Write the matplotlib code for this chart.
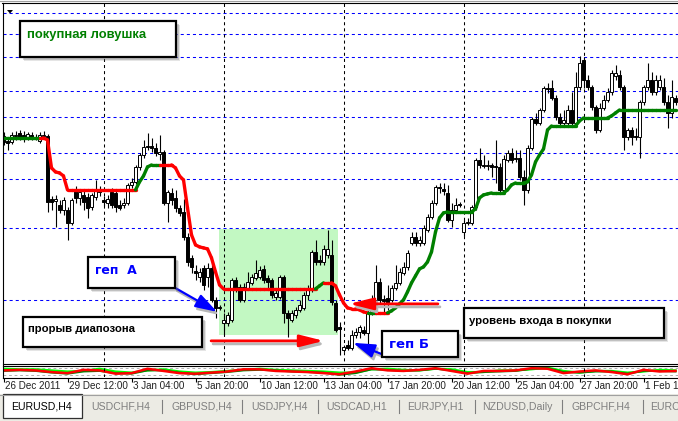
import numpy as np
import matplotlib
matplotlib.use("Agg")
import matplotlib.pyplot as plt
from matplotlib.patches import Rectangle, Polygon
from matplotlib.collections import LineCollection
import matplotlib.transforms as mtransforms

plt.rcParams['lines.scale_dashes'] = False

# ---------------- DATA (EURUSD H4, prices x 10^4) ----------------
open_pips = [
    13028, 13018, 13016, 13028, 13034, 13030, 13026, 13030, 13026, 13018,
    13028, 13028, 12902, 12898, 12890, 12880, 12880, 12854, 12918, 12904,
    12910, 12906, 12886, 12906, 12920, 12900, 12894, 12916, 12914, 12890,
    12890, 12894, 12930, 12936, 12966, 12990, 13008, 13008, 13004, 12992,
    12996, 12894, 12914, 12904, 12884, 12876, 12826, 12784, 12758, 12746,
    12764, 12746, 12764, 12700, 12686, 12654, 12654, 12660, 12740, 12726,
    12700, 12724, 12734, 12744, 12746, 12762, 12744, 12740, 12706, 12706,
    12746, 12674, 12660, 12670, 12680, 12684, 12710, 12720, 12796, 12780,
    12776, 12790, 12790, 12694, 12646, 12600, 12610, 12604, 12630, 12636,
    12640, 12634, 12674, 12700, 12736, 12702, 12704, 12700, 12724, 12734,
    12754, 12766, 12814, 12826, 12814, 12814, 12840, 12866, 12894, 12926,
    12922, 12914, 12860, 12880, 12892, 12836, 12854, 12854, 12886, 12980,
    12970, 12968, 12970, 12968, 12966, 12920, 12980, 12994, 12984, 12984,
    12946, 12920, 13004, 13062, 13054, 13080, 13124, 13124, 13104, 13066,
    13054, 13054, 13080, 13054, 13126, 13180, 13140, 13126, 13086, 13040,
    13084, 13100, 13116, 13148, 13150, 13126, 13026, 13040, 13028, 13026,
    13096, 13126, 13140, 13116, 13126, 13126, 13096, 13074, 13104]
high_pips = [
    13036, 13022, 13036, 13038, 13040, 13038, 13036, 13036, 13032, 13036,
    13038, 13032, 12908, 12910, 12900, 12906, 12886, 12904, 12928, 12922,
    12920, 12914, 12914, 12940, 12928, 12908, 12910, 12924, 12920, 12900,
    12904, 12934, 12944, 12970, 12994, 13020, 13034, 13024, 13014, 13030,
    13000, 12920, 12924, 12920, 12890, 12902, 12834, 12790, 12770, 12764,
    12770, 12774, 12776, 12706, 12690, 12674, 12676, 12744, 12746, 12732,
    12734, 12756, 12752, 12780, 12768, 12770, 12750, 12744, 12720, 12750,
    12750, 12680, 12680, 12686, 12700, 12716, 12730, 12800, 12820, 12790,
    12810, 12840, 12820, 12700, 12656, 12610, 12620, 12640, 12644, 12650,
    12648, 12680, 12710, 12770, 12744, 12710, 12730, 12730, 12770, 12764,
    12776, 12800, 12836, 12836, 12828, 12850, 12872, 12900, 12930, 12934,
    12934, 12930, 12894, 12904, 12896, 12860, 12864, 12890, 12984, 13004,
    12990, 12980, 12974, 13020, 12974, 12990, 13000, 13004, 13000, 13000,
    12960, 13010, 13066, 13074, 13084, 13128, 13134, 13140, 13110, 13074,
    13080, 13090, 13116, 13156, 13188, 13186, 13150, 13130, 13090, 13094,
    13110, 13124, 13160, 13170, 13160, 13130, 13044, 13046, 13044, 13100,
    13130, 13174, 13156, 13150, 13150, 13144, 13110, 13140, 13110]
low_pips = [
    13010, 13000, 13012, 13020, 13020, 13016, 13020, 13020, 13020, 13014,
    13022, 12876, 12880, 12846, 12874, 12870, 12820, 12850, 12894, 12890,
    12880, 12864, 12880, 12900, 12908, 12888, 12884, 12884, 12876, 12880,
    12884, 12890, 12924, 12932, 12960, 12984, 13000, 12996, 12988, 12980,
    12890, 12856, 12890, 12876, 12868, 12820, 12768, 12754, 12740, 12736,
    12720, 12726, 12696, 12664, 12680, 12630, 12648, 12656, 12716, 12696,
    12696, 12720, 12730, 12740, 12742, 12734, 12720, 12704, 12700, 12702,
    12654, 12626, 12656, 12664, 12676, 12680, 12700, 12716, 12770, 12770,
    12770, 12784, 12690, 12636, 12590, 12596, 12600, 12600, 12624, 12624,
    12630, 12610, 12670, 12696, 12694, 12676, 12680, 12696, 12720, 12730,
    12750, 12760, 12810, 12808, 12808, 12810, 12836, 12862, 12890, 12914,
    12910, 12856, 12846, 12874, 12886, 12828, 12850, 12850, 12880, 12964,
    12964, 12960, 12946, 12934, 12914, 12914, 12976, 12974, 12976, 12940,
    12890, 12914, 13000, 13050, 13050, 13076, 13114, 13100, 13060, 13050,
    13050, 13050, 13050, 13050, 13120, 13124, 13120, 13080, 13034, 13036,
    13080, 13096, 13110, 13140, 13120, 13000, 13020, 13010, 13020, 12984,
    13090, 13120, 13110, 13110, 13120, 13090, 13044, 13064, 13090]
close_pips = [
    13016, 13014, 13030, 13030, 13026, 13026, 13032, 13024, 13024, 13030,
    13030, 12896, 12896, 12902, 12880, 12900, 12854, 12900, 12904, 12916,
    12896, 12884, 12910, 12920, 12916, 12896, 12902, 12890, 12886, 12884,
    12894, 12930, 12936, 12966, 12990, 13006, 13006, 13004, 12994, 12996,
    12894, 12916, 12900, 12884, 12874, 12826, 12776, 12766, 12754, 12756,
    12730, 12764, 12700, 12684, 12684, 12660, 12670, 12740, 12720, 12700,
    12726, 12736, 12746, 12754, 12760, 12740, 12736, 12710, 12714, 12746,
    12674, 12664, 12674, 12680, 12690, 12710, 12720, 12796, 12776, 12776,
    12802, 12802, 12696, 12640, 12642, 12606, 12604, 12630, 12636, 12646,
    12634, 12674, 12700, 12736, 12700, 12698, 12694, 12724, 12734, 12756,
    12766, 12794, 12826, 12814, 12820, 12844, 12866, 12894, 12926, 12924,
    12918, 12860, 12880, 12890, 12890, 12854, 12856, 12886, 12980, 12970,
    12968, 12970, 12966, 12966, 12920, 12982, 12994, 12980, 12982, 12946,
    12920, 13004, 13062, 13054, 13080, 13124, 13122, 13104, 13066, 13054,
    13060, 13080, 13054, 13126, 13174, 13140, 13126, 13086, 13040, 13084,
    13100, 13116, 13154, 13154, 13126, 13026, 13040, 13026, 13026, 13096,
    13126, 13140, 13116, 13140, 13140, 13096, 13074, 13106, 13096]

# trailing-stop indicator value per bar
stop_pips = [
    13024, 13024, 13024, 13024, 13024, 13024, 13024, 13024, 13024, 13024,
    13024, 13020, 12964, 12956, 12954, 12948, 12920, 12920, 12920, 12920,
    12920, 12920, 12920, 12920, 12920, 12920, 12920, 12920, 12920, 12920,
    12920, 12920, 12920, 12920, 12936, 12948, 12966, 12970, 12970, 12970,
    12970, 12970, 12970, 12964, 12948, 12940, 12884, 12830, 12810, 12806,
    12804, 12802, 12784, 12756, 12730, 12722, 12722, 12722, 12722, 12722,
    12722, 12722, 12722, 12722, 12722, 12722, 12722, 12722, 12722, 12722,
    12722, 12722, 12722, 12722, 12722, 12722, 12722, 12722, 12722, 12728,
    12734, 12734, 12734, 12728, 12710, 12694, 12684, 12682, 12682, 12680,
    12676, 12674, 12674, 12674, 12674, 12674, 12674, 12678, 12684, 12692,
    12700, 12716, 12734, 12748, 12762, 12766, 12776, 12796, 12836, 12864,
    12874, 12876, 12876, 12876, 12876, 12876, 12876, 12876, 12882, 12904,
    12910, 12912, 12914, 12914, 12914, 12914, 12920, 12930, 12934, 12934,
    12934, 12936, 12950, 12976, 12990, 13002, 13040, 13048, 13048, 13048,
    13048, 13048, 13048, 13048, 13058, 13064, 13064, 13064, 13064, 13064,
    13064, 13064, 13068, 13074, 13080, 13080, 13080, 13080, 13080, 13080,
    13080, 13080, 13080, 13080, 13080, 13080, 13080, 13080, 13080]
# trend runs of the indicator: (first bar, last bar, 'G' up / 'R' down)
trend_runs = [(0, 9, 'G'), (10, 33, 'R'), (34, 39, 'G'), (40, 78, 'R'),
              (79, 80, 'G'), (81, 91, 'R'), (92, 93, 'G'), (94, 96, 'R'),
              (97, 168, 'G')]

# horizontal levels drawn on chart (blue dashed)
level_pips = [13274, 13232, 13186, 13118, 13066, 12994, 12942, 12844, 12700]
# vertical grid bars
vgrid_bars = [25, 55, 85, 115, 145]

# time axis
time_bars = [0, 16, 32, 48, 64, 80, 96, 112, 128, 144, 160]
time_labels = ["26 Dec 2011", "29 Dec 12:00", "3 Jan 04:00", "5 Jan 20:00",
               "10 Jan 12:00", "13 Jan 04:00", "17 Jan 20:00", "20 Jan 12:00",
               "25 Jan 04:00", "27 Jan 20:00", "1 Feb 12:00"]

# lower oscillator panel (normalised 0..1), sampled every 4 bars
osc_bars = list(range(0, 169, 4))
osc_red = [0.6, 0.65, 0.6, 0.45, 0.35, 0.65, 0.6, 0.3, 0.35, 0.75, 0.55, 0.35,
           0.3, 0.4, 0.5, 0.7, 0.7, 0.55, 0.5, 0.45, 0.35, 0.25, 0.5, 0.8, 0.6,
           0.55, 0.65, 0.8, 0.55, 0.3, 0.55, 0.55, 0.6, 0.8, 0.75, 0.35, 0.5,
           0.6, 0.45, 0.25, 0.65, 0.5, 0.55]
osc_lime = [0.75, 0.7, 0.7, 0.6, 0.5, 0.55, 0.75, 0.5, 0.4, 0.6, 0.7, 0.5, 0.4,
            0.45, 0.55, 0.65, 0.75, 0.65, 0.6, 0.55, 0.5, 0.4, 0.4, 0.7, 0.75,
            0.65, 0.6, 0.75, 0.7, 0.45, 0.45, 0.6, 0.6, 0.7, 0.85, 0.55, 0.4,
            0.55, 0.55, 0.4, 0.5, 0.65, 0.6]
osc_green = [0.55, 0.6, 0.55, 0.4, 0.3, 0.5, 0.55, 0.35, 0.3, 0.6, 0.6, 0.4,
             0.25, 0.35, 0.45, 0.6, 0.65, 0.6, 0.5, 0.45, 0.4, 0.2, 0.35, 0.7,
             0.65, 0.55, 0.6, 0.75, 0.6, 0.35, 0.45, 0.5, 0.55, 0.75, 0.8,
             0.45, 0.4, 0.5, 0.5, 0.3, 0.55, 0.55, 0.5]

tabs = ["EURUSD,H4", "USDCHF,H4", "GBPUSD,H4", "USDJPY,H4", "USDCAD,H1",
        "EURJPY,H1", "NZDUSD,Daily", "GBPCHF,H4", "EURCHF,H4"]

# ---------------- FIGURE ----------------
W, H = 678, 421
fig = plt.figure(figsize=(W / 100, H / 100), dpi=100)
fig.patch.set_facecolor('white')


def frect(x0, y0, x1, y1):
    return [x0 / W, 1 - y1 / H, (x1 - x0) / W, (y1 - y0) / H]


o = np.array(open_pips) / 1e4
h = np.array(high_pips) / 1e4
l = np.array(low_pips) / 1e4
c = np.array(close_pips) / 1e4
stop = np.array(stop_pips) / 1e4
n = len(o)
idx = np.arange(n)
trend = [''] * n
for a, b, t in trend_runs:
    for k in range(a, b + 1):
        trend[k] = t

XLIM = (-0.25, 168.62)
ax = fig.add_axes(frect(2.5, 3, 678, 363.5))
ax.set_xlim(*XLIM)
ax.set_ylim(1.25727, 1.3294)
ax.axis('off')

# green range box
ax.add_patch(Rectangle((53.9, 1.2630), 29.7, 0.0212, facecolor='#c2f8c2',
                       edgecolor='none', zorder=0))
# grid / levels
ax.hlines(np.array(level_pips) / 1e4, XLIM[0], XLIM[1], colors='#0000ff',
          linestyles=(0, (2.2, 2.2)), lw=0.75, zorder=1)
ax.vlines(vgrid_bars, 1.2, 1.4, colors='black', linestyles=(0, (2.2, 2.2)),
          lw=0.75, zorder=1)

# candles
ax.vlines(idx, l, h, color='black', lw=0.8, zorder=4)
up = c >= o
ax.bar(idx, np.abs(c - o), bottom=np.minimum(o, c), width=0.55,
       color=np.where(up, 'white', 'black'), edgecolor='black',
       linewidth=0.7, zorder=5)

# trailing stop line
pts = np.column_stack([idx, stop])
segs = [pts[i:i + 2] for i in range(n - 1)]
cols = ['#008000' if trend[i + 1] == 'G' else '#ff0000' for i in range(n - 1)]
ax.add_collection(LineCollection(segs, colors=cols, linewidths=2.4,
                                 capstyle='round', zorder=6))

# arrows (with soft shadow)
shadow = mtransforms.offset_copy(ax.transData, fig=fig, x=2, y=-3, units='dots')


def arrow(tail, head, color, lw, hl, hw, ms):
    style = f'-|>,head_length={hl},head_width={hw}'
    for tr, col, z in ((shadow, '#b8b8b8', 7), (ax.transData, color, 8)):
        ax.annotate('', xy=head, xytext=tail, xycoords=tr, textcoords=tr,
                    arrowprops=dict(arrowstyle=style, color=col, lw=lw,
                                    shrinkA=0, shrinkB=0, mutation_scale=ms),
                    annotation_clip=False, zorder=z)


arrow((42.9, 1.2724), (53.4, 1.2676), '#0000ff', 1.6, 1.1, 0.35, 12)
arrow((51.9, 1.2618), (80.1, 1.2618), '#ff0000', 2.0, 1.2, 0.3, 12)
arrow((108.6, 1.2692), (86.4, 1.2692), '#ff0000', 2.0, 1.2, 0.3, 12)
arrow((94.4, 1.2592), (87.4, 1.2614), '#0000ff', 1.6, 1.1, 0.35, 12)

# oscillator panel
axo = fig.add_axes(frect(2.5, 366, 678, 377))
axo.set_xlim(*XLIM)
axo.set_ylim(0, 1)
axo.axis('off')
axo.hlines([0.2, 0.85], XLIM[0], XLIM[1], colors='#b0b0b0',
           linestyles=(0, (2, 2)), lw=0.7)
axo.plot(osc_bars, osc_lime, color='#00ff00', lw=1.6)
axo.plot(osc_bars, osc_green, color='#008000', lw=1.4)
axo.plot(osc_bars, osc_red, color='#ff0000', lw=1.8)
axo.vlines(vgrid_bars, 0, 1, colors='black', linestyles=(0, (2.2, 2.2)), lw=0.75)

# time axis
axt = fig.add_axes(frect(2.5, 377, 678, 393))
axt.set_xlim(*XLIM)
axt.set_ylim(16, 0)
axt.axis('off')
axt.vlines(time_bars, 0.5, 5, colors='black', lw=0.8)
for b, s in zip(time_bars, time_labels):
    axt.text(b + 0.45, 9, s, ha='left', va='center', fontsize=7.1,
             family='Liberation Sans', color='#202020')

# ---------------- overlay (frame, tabs, notes) ----------------
ov = fig.add_axes([0, 0, 1, 1])
ov.set_xlim(0, W)
ov.set_ylim(H, 0)
ov.axis('off')
ov.patch.set_alpha(0)

ov.plot([0, W], [0.5, 0.5], color='#a0a0a0', lw=0.8)
ov.plot([2, W], [2.5, 2.5], color='black', lw=0.8)
ov.plot([2.5, 2.5], [2.5, 377.5], color='black', lw=0.8)
for yy in (363.5, 366, 377.5):
    ov.plot([2.5, W], [yy, yy], color='black', lw=0.8)
ov.add_patch(Polygon([(7, 10), (13, 10), (10, 13.5)], closed=True,
                     facecolor='black', edgecolor='none'))

# tab strip
ov.add_patch(Rectangle((0, 394), W, 27, facecolor='#ecebe4', edgecolor='none'))
ov.plot([0, W], [395, 395], color='#a0a0a0', lw=0.8)
ov.add_patch(Rectangle((3, 394), 79, 24, facecolor='white', edgecolor='#303030',
                       lw=0.9))
tab_x = [41, 121, 202, 279, 357, 435, 517, 601, 680]
sep_x = [162, 242, 318, 399, 475, 562, 643]
for i, (tx, s) in enumerate(zip(tab_x, tabs)):
    ov.text(tx, 406.5, s, ha='center', va='center', fontsize=7.6,
            family='Liberation Sans', color='black' if i == 0 else '#7f7f7f',
            clip_on=False)
for sx in sep_x:
    ov.plot([sx, sx], [400, 413], color='#7f7f7f', lw=0.8)


def note_box(x0, y0, x1, y1, text, tx, ty, color, size, family):
    for d, a in ((4, 0.18), (2.5, 0.3)):
        ov.add_patch(Rectangle((x0 + d, y0 + d), x1 - x0, y1 - y0,
                               facecolor='#707070', edgecolor='none', alpha=a))
    ov.add_patch(Rectangle((x0, y0), x1 - x0, y1 - y0, facecolor='white',
                           edgecolor='black', lw=1.6))
    ov.text(tx, ty, text, color=color, fontsize=size, fontweight='bold',
            family=family, ha='left', va='center')


note_box(20, 21, 176, 57, "покупная ловушка", 27, 35, '#008000', 9.4,
         'Liberation Sans')
note_box(88, 257, 175, 288, "геп  А", 95, 270, '#0000ff', 9.0, 'DejaVu Sans')
note_box(23, 317, 202, 347, "прорыв диапозона", 28, 329.5, 'black', 8.2,
         'Liberation Sans')
note_box(382, 331, 458, 357, "геп Б", 389, 345, '#0000ff', 9.5, 'DejaVu Sans')
note_box(464, 308, 664, 338, "уровень входа в покупки", 469, 321.5, 'black',
         8.2, 'Liberation Sans')

fig.savefig('out.png', dpi=100)
